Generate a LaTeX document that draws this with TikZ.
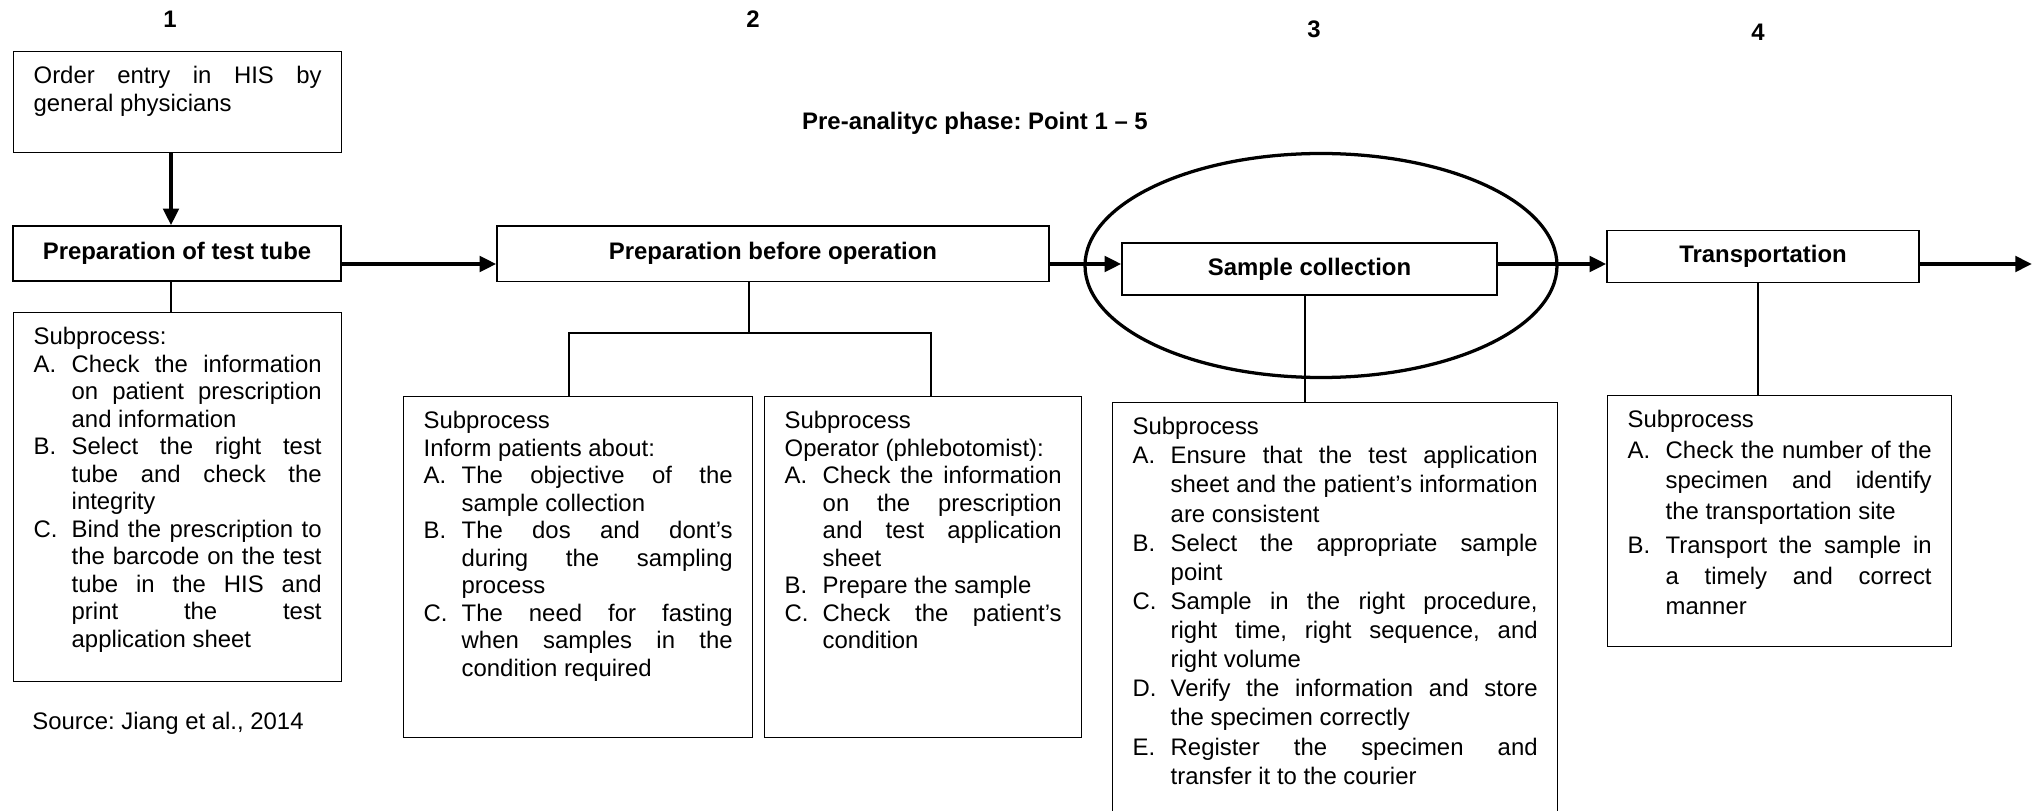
\documentclass[tikz,border=0pt]{standalone}
\usepackage{fontspec}
\setmainfont{Liberation Sans}
\usetikzlibrary{arrows.meta, shapes.geometric}

\newlength\px
\setlength\px{0.46pt}
\newcommand\bodyfont{\fontsize{11}{12.65}\selectfont}
\newcommand\itm[1]{\par\hangindent=17.5pt\hangafter=1\noindent\makebox[17.5pt][l]{#1}}
\hyphenpenalty=10000
\exhyphenpenalty=10000
\hbadness=10000
\frenchspacing

\begin{document}
\begin{tikzpicture}[x=1\px, y=-1\px, >={Triangle[length=7.7pt, width=7pt]},
    stage/.style={draw, line width=0.6pt, inner sep=0pt, font=\bodyfont\bfseries},
    subbox/.style={draw, line width=0.6pt, anchor=north west, align=justify,
      inner xsep=20\px, inner ysep=0pt, text height=32\px, font=\bodyfont},
    num/.style={anchor=base, font=\bodyfont\bfseries},
    link/.style={line width=1.1pt},
    flow/.style={->, line width=2pt},
    ring/.style={ellipse, draw, line width=1.5pt, inner sep=0pt}]

  \useasboundingbox (0,0) rectangle (2038,811);

  % Step numbers and phase title
  \node[num] (n1) at (170,28) {1};
  \node[num] (n2) at (753,28) {2};
  \node[num] (n3) at (1314,37.5) {3};
  \node[num] (n4) at (1758,40.5) {4};
  \node[num] (phase) at (975,130) {Pre-analityc phase: Point 1 – 5};

  % Main stages
  \node[subbox, text width=288\px, text depth=69\px] (order) at (13,51)
    {Order entry in HIS by\linebreak general physicians\par};
  \node[stage, minimum width=328\px, minimum height=55\px] (tube) at (177,253.5) {Preparation of test tube};
  \node[stage, minimum width=552\px, minimum height=55.5\px] (before) at (773,253.75) {Preparation before operation};
  \node[ring, minimum width=472\px, minimum height=224\px] (focus) at (1321,265.5) {};
  \node[stage, minimum width=375\px, minimum height=52\px] (sample) at (1309.5,269) {Sample collection};
  \node[stage, minimum width=312\px, minimum height=52\px] (transport) at (1763,256.5) {Transportation};

  % Subprocess boxes
  \node[subbox, text width=288\px, text depth=337\px] (sub1) at (13,312) {Subprocess:
    \itm{A.}Check the information\linebreak on patient prescription\linebreak and information
    \itm{B.}Select the right test\linebreak tube and check the\linebreak integrity
    \itm{C.}Bind the prescription to\linebreak the barcode on the test\linebreak tube in the HIS and\linebreak print the test\linebreak application sheet\par};

  \node[subbox, text width=309\px, text depth=309\px] (inform) at (403,396) {Subprocess\par
    Inform patients about:
    \itm{A.}The objective of the\linebreak sample collection
    \itm{B.}The dos and dont’s\linebreak during the sampling\linebreak process
    \itm{C.}The need for fasting\linebreak when samples in the\linebreak condition required\par};

  \node[subbox, text width=277\px, text depth=309\px] (operator) at (764,396) {Subprocess\par
    Operator (phlebotomist):
    \itm{A.}Check the information\linebreak on the prescription\linebreak and test application\linebreak sheet
    \itm{B.}Prepare the sample
    \itm{C.}Check the patient’s\linebreak condition\par};

  \node[subbox, text width=405\px, text depth=396\px, font=\fontsize{11}{13.4}\selectfont] (sub3) at (1112,402) {Subprocess
    \itm{A.}Ensure that the test application\linebreak sheet and the patient’s information\linebreak are consistent
    \itm{B.}Select the appropriate sample\linebreak point
    \itm{C.}Sample in the right procedure,\linebreak right time, right sequence, and\linebreak right volume
    \itm{D.}Verify the information and store\linebreak the specimen correctly
    \itm{E.}Register the specimen and\linebreak transfer it to the courier\par};

  \node[subbox, text width=304\px, text depth=219\px, font=\fontsize{11}{14.1}\selectfont] (sub4) at (1607,395) {Subprocess
    \itm{A.}Check the number of the\linebreak specimen and identify\linebreak the transportation site
    \par\vspace{1.5pt}
    \itm{B.}Transport the sample in\linebreak a timely and correct\linebreak manner\par};

  \node[anchor=base west, inner sep=0pt, font=\bodyfont] (source) at (32,729) {Source: Jiang et al., 2014};

  % Flow along the main line
  \coordinate (axis) at (0,264);
  \coordinate (fork) at (749,333);
  \coordinate (exit) at (2032,264);

  \draw[flow] (order.south -| 171,0) -- (tube.north -| 171,0);
  \draw[flow] (tube.east |- axis) -- (before.west |- axis);
  \draw[flow] (before.east |- axis) -- (sample.west |- axis);
  \draw[flow] (sample.east |- axis) -- (transport.west |- axis);
  \draw[flow] (transport.east |- axis) -- (exit);

  % Links down to the subprocesses
  \draw[link] (tube.south -| 171,0) -- (sub1.north -| 171,0);
  \draw[link] (before.south -| fork) -- (fork);
  \draw[link] (inform.north -| 569,0) |- (fork) -| (operator.north -| 931,0);
  \draw[link] (sample.south -| 1305,0) -- (sub3.north -| 1305,0);
  \draw[link] (transport.south -| 1758,0) -- (sub4.north -| 1758,0);

\end{tikzpicture}
\end{document}
